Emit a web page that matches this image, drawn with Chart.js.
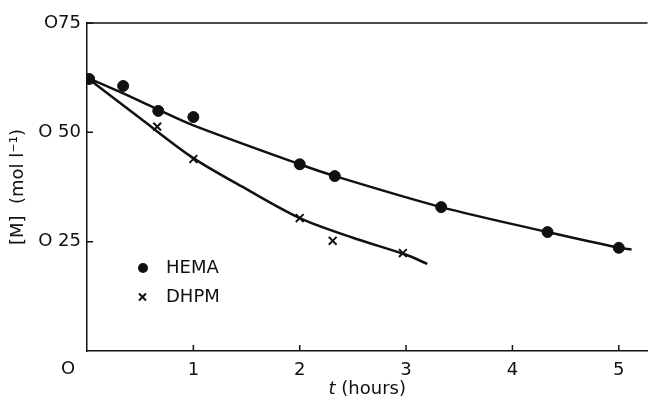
<!DOCTYPE html>
<html>
<head>
<meta charset="utf-8">
<script src="https://cdn.jsdelivr.net/npm/chart.js@4/dist/chart.umd.min.js"></script>
<style>
  html, body { margin: 0; padding: 0; background: #fff; }
  #wrap { width: 655px; height: 402px; position: relative; }
</style>
</head>
<body>
<div id="wrap"><canvas id="chart"></canvas></div>
<script>
// --- data ---
const hemaT = [0.02, 0.34, 0.67, 1.0, 2.0, 2.33, 3.33, 4.33, 5.0];
const hemaM = [0.622, 0.606, 0.549, 0.535, 0.427, 0.400, 0.329, 0.272, 0.236];
const dhpmT = [0.0, 0.66, 1.0, 2.0, 2.31, 2.97];
const dhpmM = [0.622, 0.513, 0.439, 0.304, 0.252, 0.224];

// fitted curves drawn through the points
const hemaCurveT = [0, 0.33, 0.66, 1.0, 2.0, 2.33, 3.33, 4.33, 5.0, 5.12];
const hemaCurveM = [0.625, 0.590, 0.553, 0.516, 0.427, 0.400, 0.329, 0.272, 0.236, 0.232];
const dhpmCurveT = [0, 0.5, 1.0, 1.5, 2.0, 2.5, 3.0, 3.2];
const dhpmCurveM = [0.625, 0.532, 0.441, 0.370, 0.304, 0.259, 0.220, 0.199];

const xTicks = [1, 2, 3, 4, 5];
const yTicks = [0.25, 0.5, 0.75];
const yTickLabels = ['O 25', 'O 50', 'O75'];

const FONT = 'DejaVu Sans';
const INK = '#111';
const SIZE = 18;

const toXY = (ts, ms) => ts.map((t, i) => ({ x: t, y: ms[i] }));

// inward ticks, top frame, origin label, legend and x title
const inkPlugin = {
    id: 'ink',
    afterDraw(chart) {
        const { ctx, chartArea: a, scales: { x, y } } = chart;
        ctx.save();
        ctx.strokeStyle = INK;
        ctx.lineWidth = 1.5;

        ctx.beginPath();
        ctx.moveTo(a.left, a.top);
        ctx.lineTo(a.right, a.top);
        ctx.stroke();

        ctx.beginPath();
        xTicks.forEach(v => {
            const px = x.getPixelForValue(v);
            ctx.moveTo(px, a.bottom);
            ctx.lineTo(px, a.bottom - 6);
        });
        yTicks.forEach(v => {
            const py = y.getPixelForValue(v);
            ctx.moveTo(a.left, py);
            ctx.lineTo(a.left + 6, py);
        });
        ctx.stroke();

        const font = SIZE + 'px "' + FONT + '"';
        const ital = 'italic ' + SIZE + 'px "' + FONT + '"';
        ctx.fillStyle = INK;
        ctx.font = font;
        ctx.textBaseline = 'middle';
        ctx.textAlign = 'center';
        ctx.fillText('O', x.getPixelForValue(0) - 19, a.bottom + 18);

        // legend
        ctx.textAlign = 'left';
        ctx.beginPath();
        ctx.arc(143, 268, 5, 0, Math.PI * 2);
        ctx.fill();
        ctx.fillText('HEMA', 166, 268);
        ctx.lineWidth = 2;
        ctx.beginPath();
        ctx.moveTo(139, 293.5); ctx.lineTo(146, 300.5);
        ctx.moveTo(146, 293.5); ctx.lineTo(139, 300.5);
        ctx.stroke();
        ctx.fillText('DHPM', 166, 297);

        // x title with italic t
        const cx = (a.left + a.right) / 2;
        ctx.font = ital;
        const tW = ctx.measureText('t').width;
        ctx.font = font;
        const rest = ' (hours)';
        const rW = ctx.measureText(rest).width;
        const x0 = cx - (tW + rW) / 2;
        ctx.font = ital;
        ctx.fillText('t', x0, 389);
        ctx.font = font;
        ctx.fillText(rest, x0 + tW, 389);
        ctx.restore();
    }
};

new Chart(document.getElementById('chart'), {
    type: 'scatter',
    data: {
        datasets: [
            {
                type: 'line',
                data: toXY(hemaCurveT, hemaCurveM),
                borderColor: INK,
                borderWidth: 2.5,
                pointRadius: 0,
                tension: 0.3,
                fill: false
            },
            {
                type: 'line',
                data: toXY(dhpmCurveT, dhpmCurveM),
                borderColor: INK,
                borderWidth: 2.5,
                pointRadius: 0,
                tension: 0.3,
                fill: false
            },
            {
                label: 'HEMA',
                data: toXY(hemaT, hemaM),
                pointStyle: 'circle',
                pointRadius: 5.5,
                backgroundColor: INK,
                borderColor: INK
            },
            {
                label: 'DHPM',
                data: toXY(dhpmT, dhpmM),
                pointStyle: 'crossRot',
                pointRadius: 5.5,
                borderWidth: 2,
                borderColor: INK
            }
        ]
    },
    options: {
        responsive: true,
        maintainAspectRatio: false,
        animation: false,
        layout: { padding: { top: 23, right: 2, left: 0, bottom: 0 } },
        plugins: {
            legend: { display: false },
            tooltip: { enabled: false }
        },
        scales: {
            x: {
                type: 'linear',
                min: 0,
                max: 5.27,
                afterBuildTicks: s => { s.ticks = xTicks.map(v => ({ value: v })); },
                afterFit: s => { s.height = 51; },
                grid: { display: true, drawOnChartArea: false, drawTicks: false },
                border: { display: true, color: INK, width: 1.5 },
                ticks: {
                    color: INK,
                    padding: 9,
                    font: { family: FONT, size: SIZE },
                    callback: v => String(v)
                }
            },
            y: {
                min: 0,
                max: 0.75,
                afterBuildTicks: s => { s.ticks = yTicks.map(v => ({ value: v })); },
                afterFit: s => { s.width = 87; },
                grid: { display: true, drawOnChartArea: false, drawTicks: false },
                border: { display: true, color: INK, width: 1.5 },
                title: {
                    display: true,
                    text: '[M]  (mol l\u207B\u00B9)',
                    color: INK,
                    font: { family: FONT, size: SIZE },
                    padding: { top: 8, bottom: 0 }
                },
                ticks: {
                    color: INK,
                    padding: 6,
                    font: { family: FONT, size: SIZE },
                    callback: v => yTickLabels[yTicks.indexOf(v)]
                }
            }
        }
    },
    plugins: [inkPlugin]
});
</script>
</body>
</html>
